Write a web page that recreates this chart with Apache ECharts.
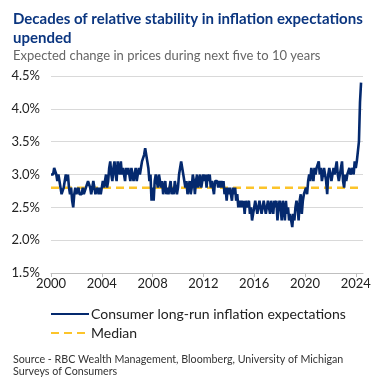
<!DOCTYPE html>
<html>
<head>
<meta charset="utf-8">
<script src="https://cdn.jsdelivr.net/npm/echarts@6/dist/echarts.min.js"></script>
<style>
html,body{margin:0;padding:0;background:#fff;}
#c{width:377px;height:378px;}
</style>
</head>
<body>
<div id="c"></div>
<script>
// Monthly consumer long-run (5-10 yr) inflation expectations, %, as plotted
const y2000 = [3.0, 3.0, 3.0, 3.1, 3.1, 3.0, 2.9, 3.0, 2.9, 2.8, 2.7, 2.7];
const y2001 = [2.8, 2.9, 3.0, 2.9, 3.0, 2.8, 2.7, 2.8, 2.6, 2.5, 2.7, 2.8];
const y2002 = [2.7, 2.7, 2.8, 2.7, 2.7, 2.7, 2.8, 2.7, 2.7, 2.8, 2.8, 2.9];
const y2003 = [2.9, 2.8, 2.7, 2.8, 2.9, 2.8, 2.7, 2.7, 2.8, 2.7, 2.8, 2.7];
const y2004 = [2.8, 2.9, 2.8, 2.9, 3.0, 2.8, 2.9, 3.1, 3.2, 3.0, 2.9, 3.1];
const y2005 = [3.2, 3.0, 2.9, 3.2, 3.1, 3.0, 3.2, 3.0, 3.1, 3.0, 2.9, 3.1];
const y2006 = [3.0, 3.1, 3.0, 2.9, 3.1, 3.0, 2.9, 3.0, 3.1, 2.9, 3.0, 3.1];
const y2007 = [3.0, 3.1, 3.2, 3.2, 3.3, 3.4, 3.4, 3.2, 3.1, 2.9, 3.0, 2.6];
const y2008 = [2.8, 2.6, 2.9, 3.0, 2.9, 2.8, 3.0, 2.9, 2.8, 2.9, 2.7, 2.8];
const y2009 = [2.9, 2.7, 2.8, 2.7, 2.8, 2.9, 2.7, 2.8, 2.7, 2.9, 2.8, 2.7];
const y2010 = [2.8, 3.0, 3.1, 3.2, 3.1, 3.0, 2.9, 2.8, 2.9, 2.7, 2.8, 2.9];
const y2011 = [2.7, 2.8, 3.0, 2.9, 2.7, 2.9, 3.0, 2.8, 2.9, 3.0, 2.8, 2.9];
const y2012 = [3.0, 2.9, 3.0, 2.8, 3.0, 2.9, 3.0, 2.8, 2.9, 2.9, 2.7, 2.9];
const y2013 = [2.9, 2.9, 2.8, 2.9, 2.8, 2.9, 2.8, 2.9, 2.7, 2.8, 2.6, 2.8];
const y2014 = [2.7, 2.8, 2.7, 2.6, 2.8, 2.7, 2.8, 2.6, 2.7, 2.5, 2.6, 2.5];
const y2015 = [2.6, 2.5, 2.6, 2.4, 2.6, 2.5, 2.5, 2.6, 2.4, 2.5, 2.3, 2.4];
const y2016 = [2.5, 2.6, 2.5, 2.4, 2.5, 2.6, 2.5, 2.4, 2.5, 2.6, 2.5, 2.4];
const y2017 = [2.5, 2.6, 2.6, 2.4, 2.6, 2.5, 2.4, 2.6, 2.5, 2.6, 2.3, 2.5];
const y2018 = [2.6, 2.5, 2.3, 2.6, 2.5, 2.3, 2.6, 2.4, 2.5, 2.3, 2.4, 2.3];
const y2019 = [2.2, 2.4, 2.3, 2.5, 2.6, 2.5, 2.3, 2.6, 2.7, 2.4, 2.6, 2.7];
const y2020 = [2.7, 2.8, 2.7, 2.9, 3.0, 2.9, 3.1, 3.0, 2.9, 3.1, 3.0, 3.1];
const y2021 = [3.1, 3.2, 3.0, 3.1, 2.9, 3.0, 3.1, 3.0, 2.9, 2.7, 3.0, 3.1];
const y2022 = [3.0, 2.9, 3.0, 3.1, 3.0, 3.1, 3.2, 3.0, 2.9, 3.0, 3.1, 3.2];
const y2023 = [2.9, 2.8, 3.0, 2.9, 3.0, 3.0, 3.1, 3.0, 3.0, 3.1, 3.0, 3.2];
const y2024 = [3.1, 3.2, 3.2, 3.5, 4.1, 4.4];
const medianValue = 2.8;
const startYear = 2000;
const yearTicks = [2000, 2004, 2008, 2012, 2016, 2020, 2024];

const values = [].concat(y2000, y2001, y2002, y2003, y2004, y2005, y2006, y2007, y2008,
  y2009, y2010, y2011, y2012, y2013, y2014, y2015, y2016, y2017, y2018, y2019,
  y2020, y2021, y2022, y2023, y2024);
const series1 = values.map((v, i) => [startYear + i / 12, v]);
const medianData = values.map((v, i) => [startYear + i / 12, medianValue]);

const NAVY = '#04296e';
const GOLD = '#fcc42a';
const FONT = 'Lato, "Open Sans", sans-serif';

const chart = echarts.init(document.getElementById('c'), null, {renderer: 'canvas'});
chart.setOption({
  animation: false,
  backgroundColor: '#fff',
  title: [
    {
      text: 'Decades of relative stability in inflation expectations\nupended',
      left: 8, top: 5,
      textStyle: {fontFamily: FONT, fontSize: 15, fontWeight: 'bold', color: '#0b3680', lineHeight: 19}
    },
    {
      text: 'Expected change in prices during next five to 10 years',
      left: 8, top: 44,
      textStyle: {fontFamily: FONT, fontSize: 13, fontWeight: 'normal', color: '#666'}
    },
    {
      text: 'Source - RBC Wealth Management, Bloomberg, University of Michigan\nSurveys of Consumers',
      left: 8, top: 349,
      textStyle: {fontFamily: FONT, fontSize: 10.7, fontWeight: 'normal', color: '#333', lineHeight: 12}
    }
  ],
  legend: {
    orient: 'vertical',
    left: 45, top: 302,
    itemWidth: 38, itemHeight: 12, itemGap: 5,
    itemStyle: {opacity: 0},
    textStyle: {fontFamily: FONT, fontSize: 14, color: '#222', padding: [0,0,0,-3]},
    data: ['Consumer long-run inflation expectations', 'Median']
  },
  grid: {left: 51, right: 14, top: 76, bottom: 105, containLabel: false},
  xAxis: {
    type: 'value',
    min: 2000, max: 2024.57,
    interval: 4,
    axisLine: {show: true, lineStyle: {color: '#bfbfbf', width: 1}},
    axisTick: {show: true, length: 4, lineStyle: {color: '#bfbfbf'}, customValues: yearTicks},
    axisLabel: {customValues: yearTicks, fontFamily: FONT, fontSize: 13, color: '#222', margin: 4,
      formatter: v => String(Math.round(v))},
    splitLine: {show: false}
  },
  yAxis: {
    type: 'value',
    min: 1.5, max: 4.5, interval: 0.5,
    axisLine: {show: false},
    axisTick: {show: false},
    axisLabel: {fontFamily: FONT, fontSize: 13, color: '#222', margin: 11,
      formatter: v => v.toFixed(1) + '%'},
    splitLine: {lineStyle: {color: '#d9d9d9', width: 1}}
  },
  series: [
    {
      name: 'Median',
      type: 'line',
      data: medianData,
      showSymbol: false, symbol: 'none',
      lineStyle: {color: GOLD, width: 2.5, type: [8, 5]},
      itemStyle: {color: GOLD},
      z: 2
    },
    {
      name: 'Consumer long-run inflation expectations',
      type: 'line',
      data: series1,
      showSymbol: false, symbol: 'none',
      lineStyle: {color: NAVY, width: 2.6},
      itemStyle: {color: NAVY},
      z: 3
    }
  ]
});
</script>
</body>
</html>
